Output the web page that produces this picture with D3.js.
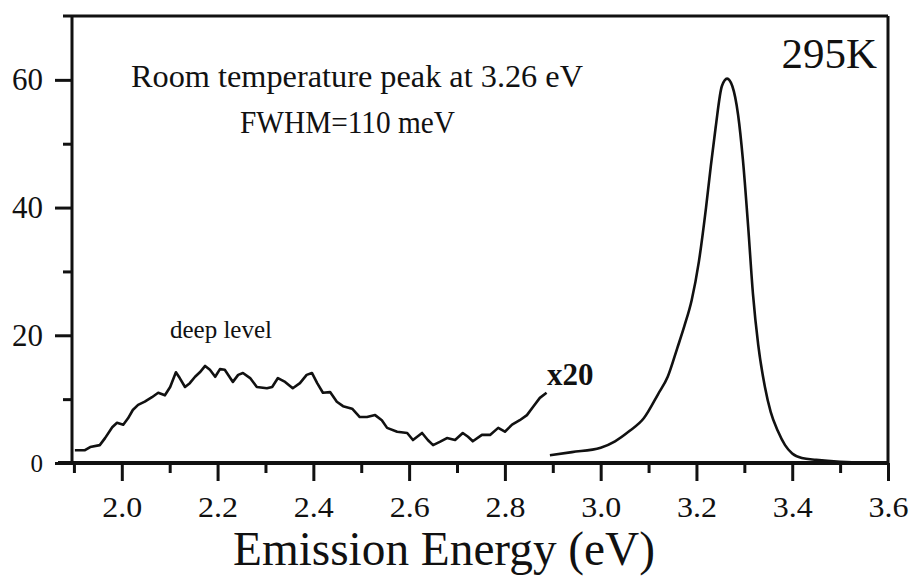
<!DOCTYPE html>
<html>
	<head>
		<title>PL spectrum 295K</title>
		<style type="text/css">
			body{ margin:0; background:#fff; }
			#chart text{ font-family:"Liberation Serif","Times New Roman",serif; fill:#111; }
		</style>
	</head>
	<body>
		<div id="chart"></div>
	<script src="https://cdn.jsdelivr.net/npm/d3@7"></script>
	<script>
		// deep level band (shown x20)
		var deepE = [1.902, 1.923, 1.934, 1.954, 1.965, 1.980, 1.990, 2.003, 2.013, 2.023, 2.034, 2.048,
			2.063, 2.076, 2.090, 2.101, 2.113, 2.121, 2.132, 2.142, 2.153, 2.163, 2.174, 2.184, 2.195,
			2.205, 2.215, 2.232, 2.243, 2.253, 2.268, 2.282, 2.303, 2.314, 2.326, 2.341, 2.357, 2.372,
			2.386, 2.397, 2.408, 2.420, 2.435, 2.449, 2.462, 2.481, 2.497, 2.512, 2.529, 2.543, 2.554,
			2.575, 2.596, 2.608, 2.627, 2.639, 2.650, 2.664, 2.679, 2.696, 2.712, 2.723, 2.733, 2.752,
			2.769, 2.786, 2.800, 2.815, 2.831, 2.846, 2.859, 2.873, 2.887];
		var deepI = [2.0, 2.0, 2.5, 2.8, 3.9, 5.6, 6.3, 6.0, 7.0, 8.3, 9.1, 9.6,
			10.3, 11.0, 10.6, 11.9, 14.2, 13.3, 11.9, 12.5, 13.5, 14.2, 15.2, 14.6, 13.5,
			14.7, 14.6, 12.7, 13.8, 14.1, 13.3, 11.9, 11.7, 11.9, 13.3, 12.7, 11.7, 12.5,
			13.8, 14.1, 12.5, 11.0, 11.1, 9.6, 8.9, 8.5, 7.2, 7.2, 7.5, 6.7, 5.5,
			4.9, 4.7, 3.6, 4.7, 3.6, 2.8, 3.3, 3.9, 3.6, 4.7, 4.1, 3.4, 4.4,
			4.4, 5.5, 4.9, 6.0, 6.7, 7.5, 8.8, 10.2, 11.0];

		// band edge peak
		var peakE = [2.894, 2.94, 3.00, 3.03, 3.06, 3.09, 3.12, 3.14, 3.16, 3.175, 3.19, 3.205, 3.22,
			3.23, 3.24, 3.253, 3.264, 3.275, 3.287, 3.297, 3.308, 3.318, 3.329, 3.343, 3.355, 3.37,
			3.385, 3.40, 3.42, 3.45, 3.50, 3.55, 3.6];
		var peakI = [1.2, 1.7, 2.4, 3.4, 5.0, 7.0, 10.8, 13.5, 18.0, 21.5, 25.5, 31.5, 40.0,
			46.5, 52.5, 59.0, 60.2, 59.0, 54.5, 47.5, 37.0, 26.5, 18.5, 11.9, 8.0, 5.0,
			2.8, 1.5, 0.8, 0.5, 0.2, 0.1, 0.1];

		var xMajor = [2.0, 2.2, 2.4, 2.6, 2.8, 3.0, 3.2, 3.4, 3.6];
		var xMinor = [1.9, 2.1, 2.3, 2.5, 2.7, 2.9, 3.1, 3.3, 3.5];
		var yMajor = [0, 20, 40, 60];
		var yMinor = [10, 30, 50];

		var W = 913, H = 576;
		var L = 72, R = 888, T = 16, B = 463;

		var x = d3.scaleLinear().domain([1.896, 3.6]).range([L, R]);
		var y = d3.scaleLinear().domain([0, 70]).range([B, T]);

		var svg = d3.select('#chart').append('svg')
				.attr('width', W).attr('height', H);
		svg.append('rect').attr('width', W).attr('height', H).attr('fill', '#fff');

		// frame
		var frame = svg.append('g').attr('stroke', '#111').attr('fill', 'none');
		frame.append('line').attr('x1', L - 9).attr('x2', R).attr('y1', T).attr('y2', T).attr('stroke-width', 3);
		frame.append('line').attr('x1', R).attr('x2', R).attr('y1', T).attr('y2', B).attr('stroke-width', 3);
		frame.append('line').attr('x1', L).attr('x2', L).attr('y1', T).attr('y2', B).attr('stroke-width', 3);

		// x axis
		var gx = svg.append('g').attr('transform', 'translate(0,' + B + ')');
		gx.call(d3.axisBottom(x).tickValues(xMajor).tickSize(18).tickPadding(15).tickFormat(d3.format('.1f')));
		var gxm = svg.append('g').attr('transform', 'translate(0,' + B + ')');
		gxm.call(d3.axisBottom(x).tickValues(xMinor).tickSize(10).tickFormat(''));

		// y axis
		var gy = svg.append('g').attr('transform', 'translate(' + L + ',0)');
		gy.call(d3.axisLeft(y).tickValues(yMajor).tickSize(17).tickPadding(12));
		var gym = svg.append('g').attr('transform', 'translate(' + L + ',0)');
		gym.call(d3.axisLeft(y).tickValues(yMinor).tickSize(9).tickFormat(''));

		svg.selectAll('.domain').remove();
		svg.selectAll('.tick line').attr('stroke', '#111').attr('stroke-width', 3);
		gx.selectAll('text').style('font-size', '30px').attr('fill', '#111')
			.attr('textLength', 40).attr('lengthAdjust', 'spacingAndGlyphs');
		gy.selectAll('text').style('font-size', function(d){ return d === 0 ? '25px' : '31px'; })
			.attr('fill', '#111');

		// bottom axis line (thicker)
		svg.append('line').attr('x1', L - 14).attr('x2', R).attr('y1', B).attr('y2', B)
			.attr('stroke', '#111').attr('stroke-width', 4);

		// curves
		var line = d3.line().x(function(d){ return x(d[0]); }).y(function(d){ return y(d[1]); });
		var deep = deepE.map(function(e, i){ return [e, deepI[i]]; });
		var peak = peakE.map(function(e, i){ return [e, peakI[i]]; });

		svg.append('path').datum(deep).attr('d', line)
			.attr('fill', 'none').attr('stroke', '#111').attr('stroke-width', 2.6)
			.attr('stroke-linejoin', 'round');
		svg.append('path').datum(peak).attr('d', line.curve(d3.curveMonotoneX))
			.attr('fill', 'none').attr('stroke', '#111').attr('stroke-width', 2.6);

		// labels
		svg.append('text').attr('x', 131).attr('y', 87).style('font-size', '32px')
			.attr('textLength', 452).attr('lengthAdjust', 'spacingAndGlyphs')
			.text('Room temperature peak at 3.26 eV');
		svg.append('text').attr('x', 240).attr('y', 133).style('font-size', '31px')
			.attr('textLength', 215).attr('lengthAdjust', 'spacingAndGlyphs')
			.text('FWHM=110 meV');
		svg.append('text').attr('x', 877).attr('y', 68).attr('text-anchor', 'end').style('font-size', '43px')
			.text('295K');
		svg.append('text').attr('x', 170).attr('y', 338).style('font-size', '25px')
			.attr('textLength', 102).attr('lengthAdjust', 'spacingAndGlyphs')
			.text('deep level');
		svg.append('text').attr('x', 547).attr('y', 385).style('font-size', '31px').style('font-weight', 'bold')
			.text('x20');
		svg.append('text').attr('x', 233).attr('y', 565).style('font-size', '48px')
			.attr('textLength', 422).attr('lengthAdjust', 'spacingAndGlyphs')
			.text('Emission Energy (eV)');
	</script>
	</body>
</html>
